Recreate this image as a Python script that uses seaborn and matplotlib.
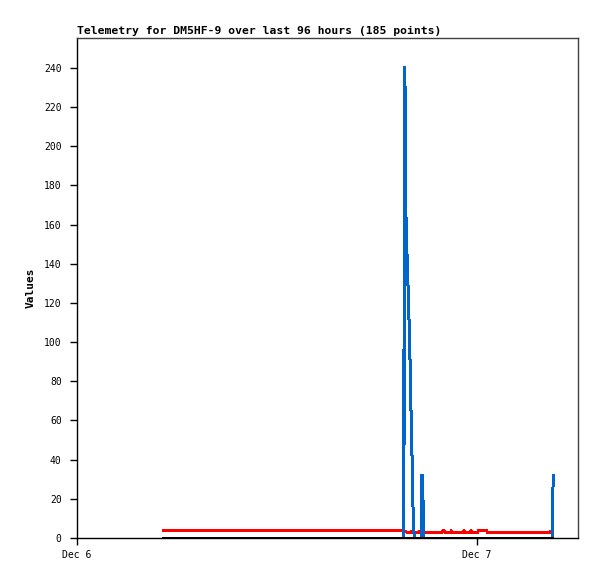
import numpy as np
import pandas as pd
import matplotlib
matplotlib.use("Agg")
import matplotlib.pyplot as plt
import seaborn as sns

# blue channel (spiky)
blue_time = ["2024-12-06 05:06", "2024-12-06 19:35", "2024-12-06 19:37", "2024-12-06 19:38",
             "2024-12-06 19:40", "2024-12-06 19:42", "2024-12-06 19:44", "2024-12-06 19:46",
             "2024-12-06 19:49", "2024-12-06 19:51", "2024-12-06 19:56", "2024-12-06 20:00",
             "2024-12-06 20:03", "2024-12-06 20:07", "2024-12-06 20:10", "2024-12-06 20:14",
             "2024-12-06 20:40", "2024-12-06 20:42", "2024-12-06 20:46", "2024-12-06 20:48",
             "2024-12-07 04:32", "2024-12-07 04:34"]
blue_vals = [0, 0, 96.5, 47.5, 240.5, 216.5, 168.5, 143.7, 144.6, 131.8, 108, 84, 60.3, 36.4, 12.7, 0,
             0, 32.2, 18, 0, 0, 32.2]

# red channel (low, almost flat)
red_time = ["2024-12-06 05:06", "2024-12-06 19:35", "2024-12-06 19:38", "2024-12-06 19:48",
            "2024-12-06 20:02", "2024-12-06 20:06", "2024-12-06 20:16", "2024-12-06 20:30",
            "2024-12-06 20:34", "2024-12-06 20:40", "2024-12-06 21:55", "2024-12-06 22:00",
            "2024-12-06 22:05", "2024-12-06 22:25", "2024-12-06 22:28", "2024-12-06 22:32",
            "2024-12-06 23:10", "2024-12-06 23:13", "2024-12-06 23:17", "2024-12-06 23:34",
            "2024-12-06 23:37", "2024-12-06 23:41", "2024-12-07 00:02", "2024-12-07 00:06",
            "2024-12-07 00:34", "2024-12-07 00:38", "2024-12-07 04:22", "2024-12-07 04:30"]
red_vals = [3.7, 3.7, 3.6, 3.0, 3.0, 3.5, 3.0, 3.0, 3.4, 3.0, 3.0, 3.8, 3.0, 3.0, 3.6, 3.0,
            3.0, 3.6, 3.0, 3.0, 3.6, 3.0, 3.0, 3.7, 3.7, 3.0, 3.0, 3.8]

# black channel (zero)
black_time = ["2024-12-06 05:06", "2024-12-07 04:34"]
black_vals = [0, 0]

xtick_dates = ["2024-12-06", "2024-12-07"]
xtick_labels = ["Dec 6", "Dec 7"]
yticks = list(range(0, 241, 20))

title = "Telemetry for DM5HF-9 over last 96 hours (185 points)"

blue = pd.DataFrame({"t": pd.to_datetime(blue_time), "v": blue_vals})
red = pd.DataFrame({"t": pd.to_datetime(red_time), "v": red_vals})
black = pd.DataFrame({"t": pd.to_datetime(black_time), "v": black_vals})

sns.set_style("white")
plt.rcParams["font.family"] = ["DejaVu Sans Mono"]
plt.rcParams["text.color"] = "black"
plt.rcParams["axes.labelcolor"] = "black"
plt.rcParams["xtick.color"] = "black"
plt.rcParams["ytick.color"] = "black"

fig = plt.figure(figsize=(5.97, 5.79), dpi=100)
ax = fig.add_axes([77 / 597, 1 - 538 / 579, (578 - 77) / 597, (538 - 38) / 579])

line_kw = dict(antialiased=False, solid_capstyle="butt", solid_joinstyle="miter")
sns.lineplot(data=red, x="t", y="v", color="#ff0000", linewidth=1.44, ax=ax, **line_kw)
sns.lineplot(data=blue, x="t", y="v", color="#0066cc", linewidth=1.44, ax=ax, **line_kw)
sns.lineplot(data=black, x="t", y="v", color="black", linewidth=1.8, ax=ax, **line_kw)

t0 = pd.Timestamp("2024-12-06 00:00")
ax.set_xlim(t0, t0 + pd.Timedelta(hours=30.06))
ax.set_ylim(0, 255.3)

ax.set_xticks(pd.to_datetime(xtick_dates))
ax.set_xticklabels(xtick_labels, fontsize=7)
ax.set_yticks(yticks)
ax.set_yticklabels([str(y) for y in yticks], fontsize=7)
ax.tick_params(axis="y", direction="out", length=5, width=1, color="black", pad=6, left=True)
ax.tick_params(axis="x", direction="out", length=5, width=1, color="black", pad=4, bottom=True)

ax.set_xlabel("")
ax.set_ylabel("Values", fontsize=8, fontweight="bold", labelpad=6)
ax.set_title(title, loc="left", fontsize=8.2, fontweight="bold", pad=3)

for side in ["left", "bottom"]:
    ax.spines[side].set_color("black")
    ax.spines[side].set_linewidth(1)
for side in ["top", "right"]:
    ax.spines[side].set_color("#404040")
    ax.spines[side].set_linewidth(1)
ax.grid(False)

fig.savefig("out.png", dpi=100)
